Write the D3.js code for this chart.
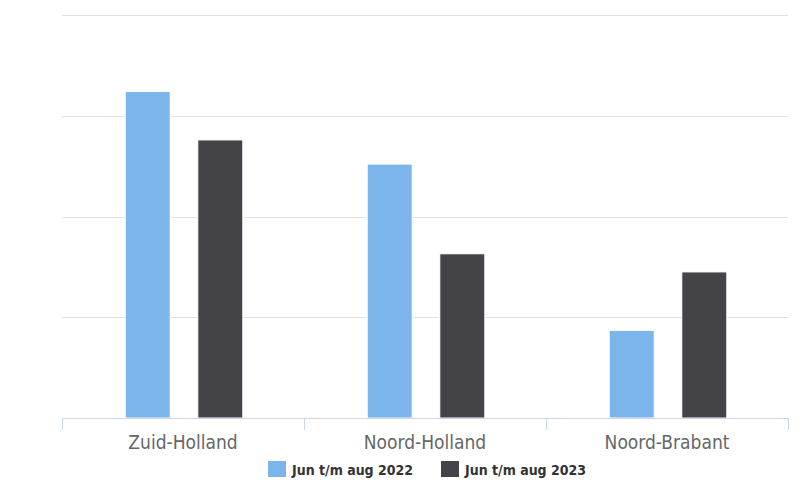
<!DOCTYPE html>
<html>
<head>
<meta charset="utf-8">
<script src="https://cdn.jsdelivr.net/npm/d3@7"></script>
<style>
  html, body { margin: 0; padding: 0; background: #ffffff; }
  svg { display: block; }
</style>
</head>
<body>
<svg id="chart" width="804" height="482"></svg>
<script>
const categories = ["Zuid-Holland", "Noord-Holland", "Noord-Brabant"];
const seriesNames = ["Jun t/m aug 2022", "Jun t/m aug 2023"];
const values2022 = [324, 252, 87];
const values2023 = [276, 163, 145];
const yTicks = [0, 100, 200, 300, 400];
const colors = ["#7cb5ec", "#434348"];

const svg = d3.select("#chart");
const margin = { left: 62, right: 16, top: 15, bottom: 64 };
const W = 804, H = 482;
const font = "'DejaVu Sans Condensed', 'Liberation Sans Narrow', sans-serif";

const x0 = d3.scaleBand().domain(categories).range([margin.left, W - margin.right]).paddingInner(0).paddingOuter(0);
const groupPad = 0.2;
const x1 = d3.scaleBand().domain(seriesNames)
  .range([x0.bandwidth() * groupPad + 1, x0.bandwidth() * (1 - groupPad) + 1])
  .paddingInner(0.38).paddingOuter(0.19);
const y = d3.scaleLinear().domain([0, 400]).range([H - margin.bottom, margin.top]);

// gridlines
svg.append("g")
  .selectAll("line").data(yTicks.filter(t => t > 0)).join("line")
  .attr("x1", margin.left).attr("x2", W - margin.right)
  .attr("y1", d => Math.round(y(d)) + 0.5).attr("y2", d => Math.round(y(d)) + 0.5)
  .attr("stroke", "#e2e2e2").attr("stroke-width", 1);

// bars
const data = categories.map((c, i) => ({ cat: c, vals: [values2022[i], values2023[i]] }));
const groups = svg.append("g").selectAll("g").data(data).join("g")
  .attr("transform", d => `translate(${x0(d.cat)},0)`);
groups.selectAll("rect").data(d => d.vals.map((v, j) => ({ s: seriesNames[j], v, j }))).join("rect")
  .attr("x", d => x1(d.s))
  .attr("width", x1.bandwidth())
  .attr("y", d => y(d.v))
  .attr("height", d => y(0) - y(d.v))
  .attr("fill", d => colors[d.j])
  .attr("stroke", "#ffffff").attr("stroke-width", 1);

// x axis
const xAxis = d3.axisBottom(x0).tickSize(0).tickPadding(0);
const ax = svg.append("g").attr("transform", `translate(0,${y(0)})`).call(xAxis);
ax.select(".domain").remove();
ax.append("line").attr("x1", margin.left).attr("x2", W - margin.right)
  .attr("y1", 0.5).attr("y2", 0.5).attr("stroke", "#ccd6eb");
const tickPos = categories.map(c => x0(c)).concat([x0(categories[categories.length - 1]) + x0.bandwidth()]);
ax.selectAll(".tk").data(tickPos).join("line").attr("class", "tk")
  .attr("x1", d => Math.round(d) + 0.5).attr("x2", d => Math.round(d) + 0.5)
  .attr("y1", 0).attr("y2", 12).attr("stroke", "#ccd6eb");
ax.selectAll(".tick text")
  .attr("y", 31)
  .attr("dy", 0)
  .attr("fill", "#666666")
  .style("font-family", font)
  .style("font-size", "19px");

// legend
const legend = svg.append("g").attr("transform", "translate(268,461)");
const legendX = [0, 173];
seriesNames.forEach((s, i) => {
  const g = legend.append("g").attr("transform", `translate(${legendX[i]},0)`);
  g.append("rect").attr("x", 0).attr("y", 0).attr("width", 18).attr("height", 16).attr("fill", colors[i]);
  g.append("text").attr("x", 24).attr("y", 14)
    .attr("fill", "#333333")
    .style("font-family", font).style("font-size", "14px").style("font-weight", "bold")
    .text(s);
});
</script>
</body>
</html>
